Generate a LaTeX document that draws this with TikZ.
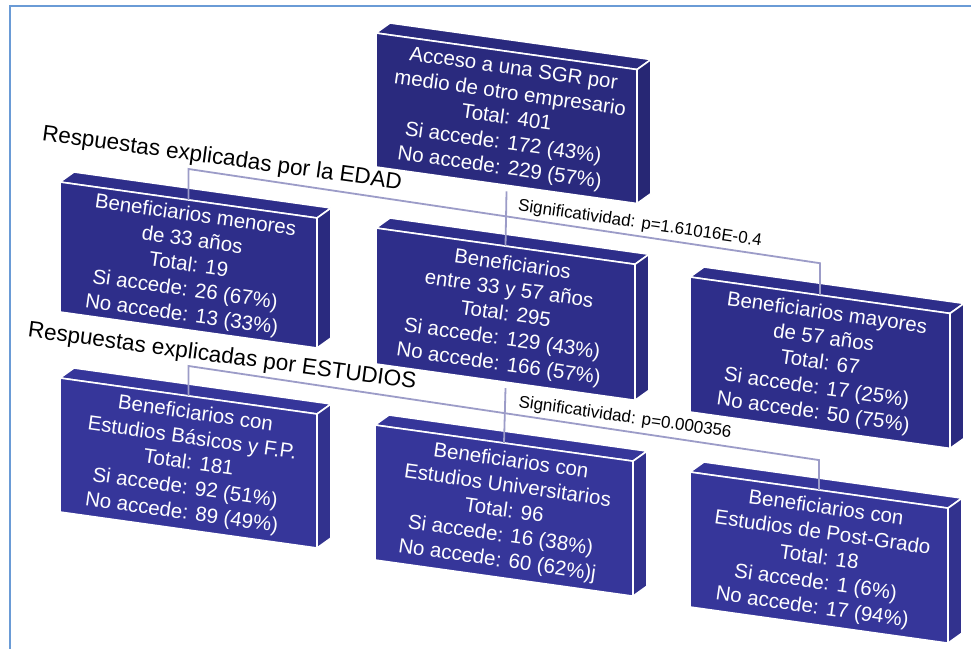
\documentclass[tikz,border=0pt]{standalone}
\usepackage{fontspec}
\setmainfont{Liberation Sans}
\usetikzlibrary{calc}
\definecolor{frameblue}{HTML}{6A9BD6}
\definecolor{boxA}{HTML}{2A2A7E}
\definecolor{boxB}{HTML}{2E2E8A}
\definecolor{boxC}{HTML}{36369A}
\definecolor{linkc}{HTML}{9C9CC8}
\tikzset{
  face/.style={draw=white, line width=1.6pt, line join=miter},
  boxtext/.style={text=white, align=center, font=\fontsize{20.5}{25}\selectfont, inner sep=0pt, rotate=-8},
  link/.style={draw=linkc, line width=1.8pt},
  rlabel/.style={font=\fontsize{22.5}{26}\selectfont, inner sep=0pt},
  slabel/.style={font=\fontsize{17}{20}\selectfont, inner sep=0pt},
}
\newcommand\cubebox[7]{%
  \pgfmathsetmacro\cxa{#2}\pgfmathsetmacro\cya{#3}%
  \pgfmathsetmacro\cxb{#2+#4}\pgfmathsetmacro\cyb{#3+0.14*#4}%
  \pgfmathsetmacro\cyc{\cyb+#5}\pgfmathsetmacro\cyd{#3+#5}%
  \pgfmathsetmacro\cxm{#2+#4/2}\pgfmathsetmacro\cym{#3+0.07*#4}%
  \filldraw[face,fill=#6] (\cxa,\cya) -- ++(14,-10) -- (\cxb+14,\cyb-10) -- (\cxb,\cyb) -- cycle;
  \filldraw[face,fill=#6!92!black] (\cxb,\cyb) -- ++(14,-10) -- (\cxb+14,\cyc-10) -- (\cxb,\cyc) -- cycle;
  \filldraw[face,fill=#6] (\cxa,\cya) -- (\cxb,\cyb) -- (\cxb,\cyc) -- (\cxa,\cyd) -- cycle;
  \coordinate (#1-top) at (\cxm,\cym);
  \coordinate (#1-bot) at (\cxm,\cym+#5);
  \node[boxtext] (#1) at (\cxm,\cym+#5/2+1) {#7};
}
\begin{document}
\begin{tikzpicture}[x=1pt,y=-1pt]
\useasboundingbox (0,0) rectangle (971,648);
\fill[white] (0,0) rectangle (971,648);
\draw[frameblue, line width=2.5pt] (10,650) -- (10,6) -- (973,6);

\cubebox{root}{376}{33}{261}{134}{boxA}{Acceso a una SGR por\\medio de otro empresario\\Total: 401\\Si accede: 172 (43\%)\\No accede: 229 (57\%)}
\cubebox{m33}{60}{182}{257}{130}{boxB}{Beneficiarios menores\\de 33 años\\Total: 19\\Si accede: 26 (67\%)\\No accede: 13 (33\%)}
\cubebox{mid2}{376}{228}{259}{136}{boxB}{Beneficiarios\\entre 33 y 57 años\\Total: 295\\Si accede: 129 (43\%)\\No accede: 166 (57\%)}
\cubebox{m57}{690}{277}{260}{135}{boxB}{Beneficiarios mayores\\de 57 años\\Total: 67\\Si accede: 17 (25\%)\\No accede: 50 (75\%)}
\cubebox{bas}{60}{378}{257}{134}{boxC}{Beneficiarios con\\Estudios Básicos y F.P.\\Total: 181\\Si accede: 92 (51\%)\\No accede: 89 (49\%)}
\cubebox{uni}{375}{425}{258}{135}{boxC}{Beneficiarios con\\Estudios Universitarios\\Total: 96\\Si accede: 16 (38\%)\\No accede: 60 (62\%)j}
\cubebox{post}{690}{472}{258}{135}{boxC}{Beneficiarios con\\Estudios de Post-Grado\\Total: 18\\Si accede: 1 (6\%)\\No accede: 17 (94\%)}

\draw[link] ($(root-bot)+(0,6)$) -- (mid2-top);
\draw[link] (m33-top) -- ++(0,-31) -- ($(m57-top)+(0,-32)$) -- (m57-top);
\draw[link] ($(mid2-bot)+(0,6)$) -- (uni-top);
\draw[link] (bas-top) -- ++(0,-30) -- ($(post-top)+(0,-30)$) -- (post-top);

\node[rlabel, rotate=-7.8] (edad) at (222,159) {Respuestas explicadas por la EDAD};
\node[rlabel, rotate=-7.6] (estud) at (222,357) {Respuestas explicadas por ESTUDIOS};
\node[slabel, rotate=-8.3] (sig1) at (640,224) {Significatividad: p=1.61016E-0.4};
\node[slabel, rotate=-8.2] (sig2) at (625,418) {Significatividad: p=0.000356};
\end{tikzpicture}
\end{document}
